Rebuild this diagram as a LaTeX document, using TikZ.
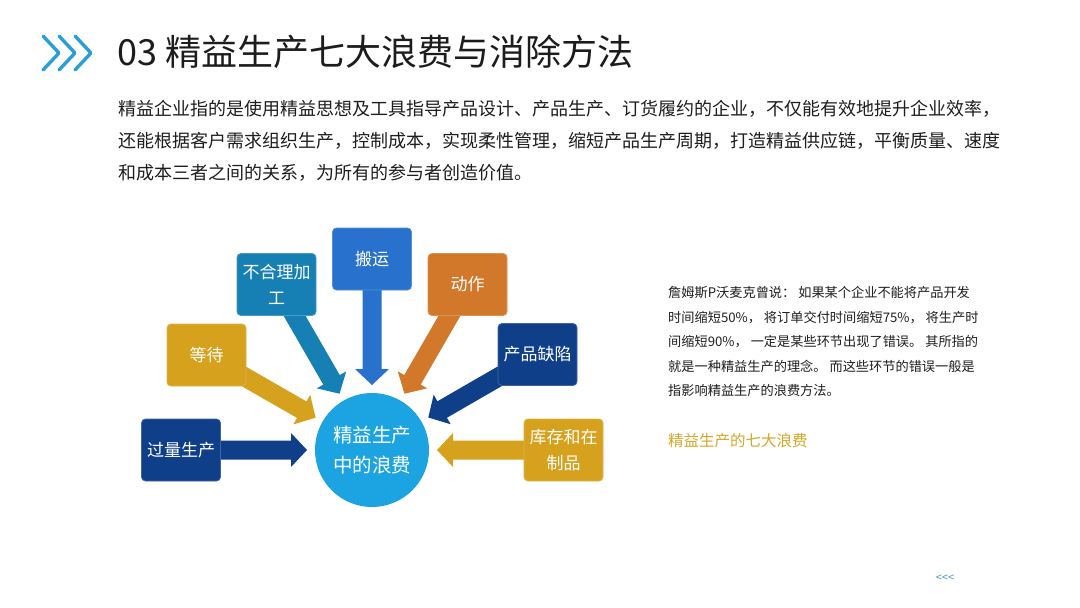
\documentclass[tikz,border=0pt]{standalone}
\usepackage{fontspec}
\setmainfont{Noto Sans CJK SC}
\usetikzlibrary{calc}
\definecolor{navyc}{RGB}{16,63,138}
\definecolor{goldc}{RGB}{214,161,28}
\definecolor{tealc}{RGB}{22,128,180}
\definecolor{bluec}{RGB}{40,114,205}
\definecolor{orangec}{RGB}{210,120,42}
\definecolor{cyanc}{RGB}{27,164,225}
\definecolor{iconc}{RGB}{42,159,214}
\definecolor{titlec}{RGB}{28,28,28}
\definecolor{bodyc}{RGB}{30,30,30}
\definecolor{yellowt}{RGB}{212,168,40}
\definecolor{backc}{RGB}{60,160,184}
\pgfdeclarelayer{bg}
\pgfdeclarelayer{arrows}
\pgfsetlayers{bg,arrows,main}
\newcommand\wastearrow[2]{%
  \begin{pgfonlayer}{arrows}
  \fill[#2] let \p1=(#1.center), \p2=($(circ.center)!65pt!(#1.center)$),
     \n1={atan2(\y2-\y1,\x2-\x1)}, \n2={veclen(\x2-\x1,\y2-\y1)} in
     {[shift={(\p2)},rotate=\n1] (0,0) -- (-16,17) -- (-16,9.5) -- (-\n2,9.5)
      -- (-\n2,-9.5) -- (-16,-9.5) -- (-16,-17) -- cycle};
  \end{pgfonlayer}}
\begin{document}
\begin{tikzpicture}[x=1pt,y=-1pt,
  wbox/.style={rounded corners=4pt, minimum width=79pt, minimum height=62pt,
    inner sep=0pt, text=white, align=center, fill=#1, draw=#1!80!white,
    line width=0.8pt, font=\fontsize{17}{26}\selectfont},
  line/.style={anchor=west, inner sep=0pt, text=bodyc},
  chev/.style={draw=iconc, line width=3.4pt, line cap=round, line join=round}]
\begin{pgfonlayer}{bg}
\fill[white] (0,0) rectangle (1080,608);
\end{pgfonlayer}
\useasboundingbox (0,0) rectangle (1080,608);

% title icon
\draw[chev] (43,36) -- (59,53) -- (43,70);
\draw[chev] (59,36) -- (75,53) -- (59,70);
\draw[chev] (75,36) -- (91,53) -- (75,70);
\node[anchor=west, inner sep=0pt, text=titlec, font=\fontsize{36}{36}\selectfont] (title) at (117,52) {03 精益生产七大浪费与消除方法};

% paragraph
\begin{scope}[every node/.style={line, font=\fontsize{18}{18}\selectfont}]
\node (p1) at (118,109) {精益企业指的是使用精益思想及工具指导产品设计、产品生产、订货履约的企业，不仅能有效地提升企业效率，};
\node (p2) at (118,141) {还能根据客户需求组织生产，控制成本，实现柔性管理，缩短产品生产周期，打造精益供应链，平衡质量、速度};
\node (p3) at (118,173) {和成本三者之间的关系，为所有的参与者创造价值。};
\end{scope}

% right text
\begin{scope}[every node/.style={line, font=\fontsize{13.2}{13.2}\selectfont}]
\node (r1) at (668,293) {詹姆斯P沃麦克曾说： 如果某个企业不能将产品开发};
\node (r2) at (668,317.5) {时间缩短50\%， 将订单交付时间缩短75\%， 将生产时};
\node (r3) at (668,342) {间缩短90\%， 一定是某些环节出现了错误。 其所指的};
\node (r4) at (668,366) {就是一种精益生产的理念。 而这些环节的错误一般是};
\node (r5) at (668,390) {指影响精益生产的浪费方法。};
\end{scope}
\node[line, text=yellowt, font=\fontsize{15.5}{15.5}\selectfont] (sub) at (668,441) {精益生产的七大浪费};
\node[inner sep=0pt, text=backc, font=\fontsize{11}{11}\selectfont] (back) at (945,578) {{<}{<}{<}};

% diagram
\node[circle, fill=cyanc, minimum size=114pt, inner sep=0pt, text=white, align=center,
  font=\fontsize{19.5}{30}\selectfont] (circ) at (372,450) {精益生产\\中的浪费};
\node[wbox=navyc] (over) at (181,450) {过量生产};
\node[wbox=goldc] (wait) at (206.5,355) {等待};
\node[wbox=tealc] (proc) at (276.5,284.5) {不合理加\\工};
\node[wbox=bluec] (trans) at (372,259) {搬运};
\node[wbox=orangec] (motion) at (467.5,284.5) {动作};
\node[wbox=navyc] (defect) at (537.5,354.5) {产品缺陷};
\node[wbox=goldc] (inv) at (563.5,450) {库存和在\\制品};

\wastearrow{over}{navyc}
\wastearrow{wait}{goldc}
\wastearrow{proc}{tealc}
\wastearrow{trans}{bluec}
\wastearrow{motion}{orangec}
\wastearrow{defect}{navyc}
\wastearrow{inv}{goldc}
\end{tikzpicture}
\end{document}
